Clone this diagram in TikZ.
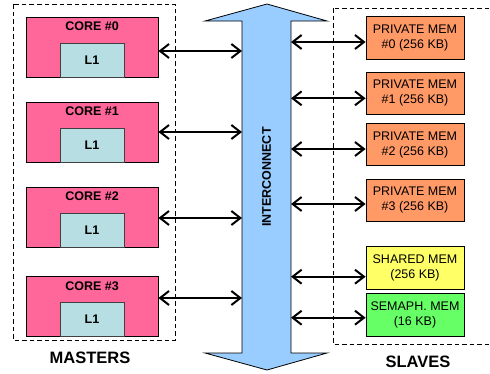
\documentclass[tikz,border=0pt]{standalone}
\usepackage{fontspec}
\setmainfont{Liberation Sans}
\usetikzlibrary{arrows.meta}
\definecolor{c1}{RGB}{255,102,153}
\definecolor{c2}{RGB}{183,222,226}
\definecolor{c3}{RGB}{255,153,102}
\definecolor{c4}{RGB}{255,255,102}
\definecolor{c5}{RGB}{102,255,102}
\definecolor{c6}{RGB}{153,204,255}

\begin{document}
\begin{tikzpicture}[x=1pt,y=-1pt,
  boxfont/.style={font=\fontsize{12.5}{15}\selectfont},
  core/.style={draw,line width=0.8pt,fill=c1,minimum width=132pt,minimum height=60pt,inner sep=0pt},
  corename/.style={boxfont,font=\fontsize{12.5}{15}\selectfont\bfseries,inner sep=0pt},
  cache/.style={draw=black!75,line width=0.8pt,fill=c2,minimum width=64pt,minimum height=34pt,inner sep=0pt,anchor=south,font=\fontsize{12.5}{15}\selectfont\bfseries},
  mem/.style={draw,line width=0.8pt,minimum width=98pt,minimum height=42.5pt,inner sep=0pt,align=center,boxfont},
  link/.style={line width=2pt,{Straight Barb[length=9pt,width=14pt]}-{Straight Barb[length=9pt,width=14pt]}},
  group/.style={draw,dash pattern=on 4.5pt off 3pt,line width=0.9pt},
  grouptitle/.style={font=\fontsize{16.5}{18}\selectfont\bfseries}]
\useasboundingbox (0,0) rectangle (490,373);

%%% Dashed groups
\draw[group] (13,4) rectangle (175,340);
\draw[group] (333,8) rectangle (495,344);
\node[grouptitle] (masters) at (90,358) {MASTERS};
\node[grouptitle] (slaves) at (418,362) {SLAVES};

%%% Interconnect
\draw[fill=c6,line width=0.8pt] (267,4) -- (327,21) -- (291,21) -- (291,353) -- (327,353)
  -- (267,370) -- (205,353) -- (242,353) -- (242,21) -- (205,21) -- cycle;
\coordinate (icl) at (242,0);
\coordinate (icr) at (291,0);
\node[rotate=90,font=\fontsize{12.5}{15}\selectfont\bfseries] (ic) at (266.5,177) {INTERCONNECT};

%%% Masters
\foreach \i/\y/\d in {0/47/-4pt,1/132/0pt,2/217/-1pt,3/306.5/8.5pt} {
  \node[core] (core\i) at (92,\y) {};
  \node[corename] (name\i) at ([yshift=-10pt]core\i.north) {CORE \#\i};
  \node[cache] (l1\i) at (core\i.south) {L1};
  \draw[link] ([yshift=\d]core\i.east) -- ([yshift=\d]icl |- core\i.east);
}

%%% Slaves
\foreach \n/\y/\c/\t/\d in {pm0/38/c3/{PRIVATE MEM\\\#0 (256 KB)}/-4pt,
                            pm1/93.3/c3/{PRIVATE MEM\\\#1 (256 KB)}/-5pt,
                            pm2/144.5/c3/{PRIVATE MEM\\\#2 (256 KB)}/-4.5pt,
                            pm3/200.3/c3/{PRIVATE MEM\\\#3 (256 KB)}/-3.7pt,
                            shm/268/c4/{SHARED MEM\\(256 KB)}/-8.7pt,
                            sem/314.7/c5/{SEMAPH. MEM\\(16 KB)}/-3pt} {
  \node[mem,fill=\c] (\n) at (415,\y) {\t};
  \draw[link] ([yshift=\d]icr |- \n.west) -- ([yshift=\d]\n.west);
}
\end{tikzpicture}
\end{document}
